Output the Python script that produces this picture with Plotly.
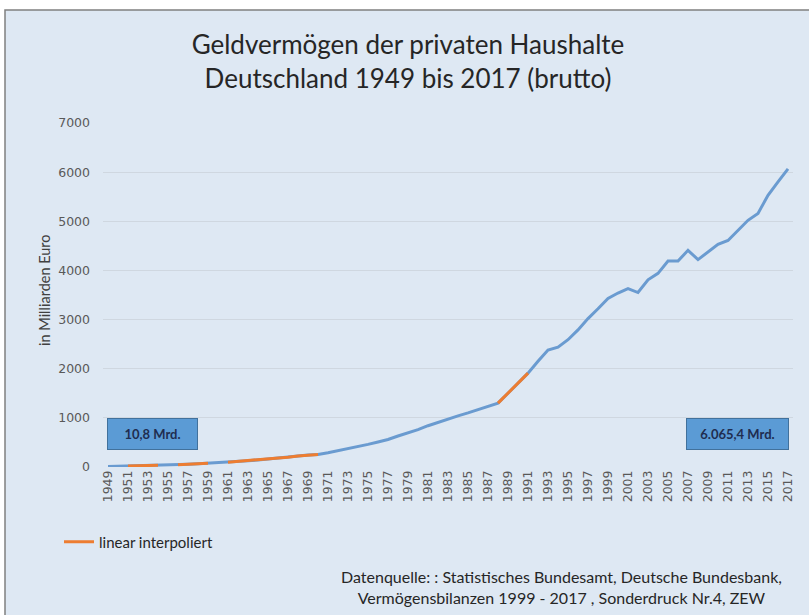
import plotly.graph_objects as go

years = list(range(1949, 2018))
values = [
    10.8, 15, 20, 25, 30, 35, 40, 48, 56, 65,            # 1949-1958
    75, 85, 97, 112, 127, 143, 160, 180, 200, 222,       # 1959-1968
    245, 255, 290, 330, 370, 410, 460, 510, 560, 630,    # 1969-1978
    690, 760, 840, 910, 970, 1040, 1100, 1170, 1230, 1300,  # 1979-1988
    1500, 1700, 1910, 2150, 2380, 2440, 2590, 2790, 3020, 3220,  # 1989-1998
    3430, 3540, 3630, 3550, 3810, 3940, 4190, 4190, 4410, 4220,  # 1999-2008
    4380, 4530, 4610, 4820, 5020, 5160, 5530, 5800, 6065.4,      # 2009-2017
]
# interpolated segments (start year, end year)
interp_segments = [(1951, 1954), (1956, 1959), (1961, 1970), (1988, 1991)]
tick_years = list(range(1949, 2018, 2))
tick_labels = [str(y) for y in tick_years]

title_text = "Geldvermögen der privaten Haushalte<br>Deutschland 1949 bis 2017 (brutto)"
y_title = "in Milliarden Euro"
legend_name = "linear interpoliert"
source_text = ("Datenquelle: : Statistisches Bundesamt, Deutsche Bundesbank,<br>"
               "Vermögensbilanzen 1999 - 2017 , Sonderdruck Nr.4, ZEW")

BLUE = "#6a9bd0"
ORANGE = "#ed7d31"
BG = "#dee8f3"

def de_fmt(v):
    s = f"{v:,.1f}"
    return s.replace(",", "X").replace(".", ",").replace("X", ".")

interp_vals = []
for y, v in zip(years, values):
    inside = any(a <= y <= b for a, b in interp_segments)
    interp_vals.append(v if inside else None)

fig = go.Figure()
fig.add_trace(go.Scatter(x=years, y=values, mode="lines",
                         line=dict(color=BLUE, width=3), showlegend=False))
fig.add_trace(go.Scatter(x=years, y=interp_vals, mode="lines", name=legend_name,
                         line=dict(color=ORANGE, width=3), connectgaps=False))

L, R, T, B = 103, 793, 123, 467
W, H = 809, 615
pw, ph = R - L, B - T

def px_x(p):
    return (p - L) / pw

def px_y(p):
    return (B - p) / ph

fig.add_shape(type="rect", xref="paper", yref="paper",
              x0=px_x(5), x1=px_x(815), y0=px_y(620), y1=px_y(10),
              fillcolor=BG, line=dict(color="#808080", width=1.5), layer="below")

fig.update_layout(
    width=W, height=H,
    margin=dict(l=L, r=W - R, t=T, b=H - B, autoexpand=False),
    paper_bgcolor="white", plot_bgcolor="rgba(0,0,0,0)",
    title=dict(text=title_text, x=408 / W, xanchor="center", y=1 - 54 / H, yanchor="top",
               yref="container", xref="container",
               font=dict(family="Lato", size=26, color="#262626")),
    xaxis=dict(range=[1948.5, 2017.5], tickmode="array", tickvals=tick_years,
               ticktext=tick_labels, tickangle=-90, showgrid=False, zeroline=False,
               showline=False, ticks="", automargin=False,
               tickfont=dict(family="DejaVu Sans", size=12.5, color="#595959")),
    yaxis=dict(range=[0, 7000], tickvals=[0, 1000, 2000, 3000, 4000, 5000, 6000, 7000],
               showgrid=True, gridcolor="#cfd7e0", gridwidth=1, zeroline=False,
               showline=False, ticks="", ticklabelstandoff=12, automargin=False,
               tickfont=dict(family="DejaVu Sans", size=12.5, color="#595959")),
    showlegend=True,
    legend=dict(x=px_x(59), y=px_y(542), xanchor="left", yanchor="middle",
                bgcolor="rgba(0,0,0,0)", itemwidth=30,
                font=dict(family="Lato", size=15, color="#262626")),
)

fig.add_annotation(text=y_title, xref="paper", yref="paper", x=px_x(44), y=px_y(290),
                   textangle=-90, showarrow=False, xanchor="center", yanchor="middle",
                   font=dict(family="Lato", size=14.5, color="#404040"))

fig.add_annotation(text=source_text, xref="paper", yref="paper", x=px_x(561), y=px_y(587),
                   showarrow=False, align="center", xanchor="center", yanchor="middle",
                   font=dict(family="Lato", size=16, color="#262626"))

box_style = dict(showarrow=False, xref="paper", yref="paper", yanchor="top",
                 bgcolor="#5b9bd5", bordercolor="#41719c", borderwidth=1, borderpad=0,
                 height=30, align="center",
                 font=dict(family="Lato", size=13, color="#1f2d50"))
fig.add_annotation(text="<b>" + de_fmt(values[0]) + " Mrd.</b>", x=px_x(107), y=px_y(418),
                   xanchor="left", width=89, **box_style)
fig.add_annotation(text="<b>" + de_fmt(values[-1]) + " Mrd.</b>", x=px_x(686), y=px_y(418),
                   xanchor="left", width=101, **box_style)

fig.write_html("out.html", config={"displayModeBar": False},
               post_script="document.body.style.margin='0';")
